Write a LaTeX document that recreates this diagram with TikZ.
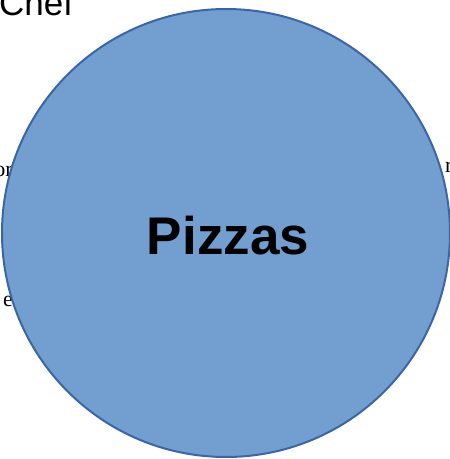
\documentclass[tikz,border=0pt]{standalone}
\usepackage{fontspec}
\setmainfont{Liberation Sans}
\newfontfamily\bodyserif{Liberation Serif}
\usetikzlibrary{positioning}
\definecolor{cFill}{HTML}{729FCF}
\definecolor{cEdge}{HTML}{3B65A5}

\begin{document}
\begin{tikzpicture}[x=1pt, y=-1pt,
   topic/.style={circle, draw=cEdge, fill=cFill, line width=2pt,
                 minimum size=448pt, inner sep=0pt},
   behind/.style={inner sep=0pt, font=\bodyserif\fontsize{22}{22}\selectfont}]
  \useasboundingbox (0,0) rectangle (450,459);
  \begin{scope}
    \clip (0,0) rectangle (450,459);
    % text lying under the circle
    \node[anchor=base west, inner sep=0pt, font=\fontsize{35}{35}\selectfont]
      (chef) at (-1,15) {Chef};
    \node[behind, anchor=base east] (leftA) at (13,176) {or};
    \node[behind, anchor=base east] (leftB) at (13,306) {e};
    \node[behind, anchor=base west] (rightA) at (445,172) {r};
    \node[topic] (pizzas) at (226,233) {};
  \end{scope}
  \node[font=\fontsize{53}{53}\selectfont\bfseries] (label) at (228,236) {Pizzas};
\end{tikzpicture}
\end{document}
